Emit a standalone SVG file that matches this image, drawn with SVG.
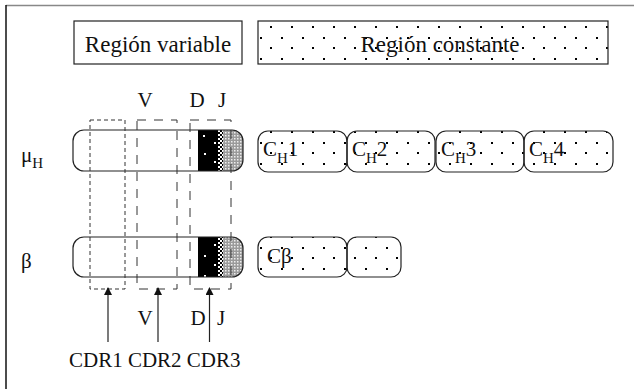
<svg xmlns="http://www.w3.org/2000/svg" width="634" height="389" viewBox="0 0 634 389" font-family="'Liberation Serif', 'Times New Roman', serif">
<style>
text{font-family:"Liberation Serif","Times New Roman",serif;fill:#111}
.lbl{font-size:21px}
.box{fill:url(#dots);stroke:#222;stroke-width:1.2}
.bar{fill:none;stroke:#222;stroke-width:1.2}
.d1{fill:none;stroke:#333;stroke-width:1;stroke-dasharray:4 3}
.d2{fill:none;stroke:#333;stroke-width:1;stroke-dasharray:9 8}
.arr{stroke:#222;stroke-width:1.2;marker-end:url(#ah)}
</style>
<defs>
<pattern id="dots" patternUnits="userSpaceOnUse" x="259" y="26" width="21" height="21">
<rect x="11" y="0" width="2" height="2" fill="#000"/>
<rect x="1" y="11" width="2" height="2" fill="#000"/>
</pattern>
<pattern id="chk" patternUnits="userSpaceOnUse" x="218" y="130" width="4" height="4">
<rect width="4" height="4" fill="#000"/>
<rect width="2" height="2" fill="#fff"/>
<rect x="2" y="2" width="2" height="2" fill="#fff"/>
</pattern>
<pattern id="gry" patternUnits="userSpaceOnUse" width="3" height="3">
<rect width="3" height="3" fill="#9a9a9a"/>
<rect width="1.5" height="1.5" fill="#eee"/>
</pattern>
<clipPath id="cm"><rect x="73" y="130" width="170" height="41" rx="11"/></clipPath>
<clipPath id="cb"><rect x="73" y="237" width="170" height="40" rx="11"/></clipPath>
<marker id="ah" markerWidth="8" markerHeight="8" refX="7" refY="4" orient="auto" markerUnits="userSpaceOnUse">
<path d="M0,0 L8,4 L0,8 Z" fill="#111"/>
</marker>
</defs>
<g id="frame">
<line x1="6" y1="5.5" x2="634" y2="5.5" stroke="#888" stroke-width="1.5"/>
<line x1="6" y1="5" x2="6" y2="389" stroke="#111" stroke-width="1.5"/>
</g>
<g id="legend-variable">
<rect x="74" y="21" width="168" height="43" fill="#fff" stroke="#222" stroke-width="1.2"/>
<text x="158" y="52" font-size="23" text-anchor="middle">Región variable</text>
</g>
<g id="legend-constante">
<rect x="258" y="21" width="350" height="43" class="box"/>
<text x="440" y="52" font-size="23" text-anchor="middle">Región constante</text>
</g>
<g id="labels-top">
<text class="lbl" x="145" y="107" text-anchor="middle">V</text>
<text class="lbl" x="197" y="107" text-anchor="middle">D</text>
<text class="lbl" x="222" y="107" text-anchor="middle">J</text>
</g>
<g id="mu-label"><text class="lbl" x="21" y="162">μ<tspan font-size="15" dy="6">H</tspan></text></g>
<g id="beta-label"><text class="lbl" x="21" y="268">β</text></g>
<g id="mu-variable">
<g clip-path="url(#cm)">
<rect x="73" y="130" width="170" height="41" fill="#fff"/>
<rect x="198" y="130" width="20" height="41" fill="#000"/>
<rect x="218" y="130" width="5" height="41" fill="url(#chk)"/>
<rect x="223" y="130" width="20" height="41" fill="url(#gry)"/>
<rect x="203" y="135" width="2" height="2" fill="#fff"/>
<rect x="214" y="142" width="2" height="2" fill="#fff"/>
<rect x="204" y="153" width="2" height="2" fill="#fff"/>
<rect x="214" y="161" width="2" height="2" fill="#fff"/>
</g>
<rect x="73" y="130" width="170" height="41" rx="11" class="bar"/>
</g>
<g id="beta-variable">
<g clip-path="url(#cb)">
<rect x="73" y="237" width="170" height="40" fill="#fff"/>
<rect x="198" y="237" width="20" height="40" fill="#000"/>
<rect x="218" y="237" width="5" height="40" fill="url(#chk)"/>
<rect x="223" y="237" width="20" height="40" fill="url(#gry)"/>
<rect x="214" y="244" width="2" height="2" fill="#fff"/>
<rect x="204" y="255" width="2" height="2" fill="#fff"/>
<rect x="214" y="264" width="2" height="2" fill="#fff"/>
<rect x="204" y="275" width="2" height="2" fill="#fff"/>
</g>
<rect x="73" y="237" width="170" height="40" rx="11" class="bar"/>
</g>
<g id="CH1"><rect x="258" y="131" width="89" height="41" rx="10" class="box"/><text class="lbl" x="263" y="156">C<tspan font-size="15" dy="7">H</tspan><tspan dy="-7">1</tspan></text></g>
<g id="CH2"><rect x="347" y="131" width="88" height="41" rx="10" class="box"/><text class="lbl" x="352" y="156">C<tspan font-size="15" dy="7">H</tspan><tspan dy="-7">2</tspan></text></g>
<g id="CH3"><rect x="436" y="131" width="88" height="41" rx="10" class="box"/><text class="lbl" x="441" y="156">C<tspan font-size="15" dy="7">H</tspan><tspan dy="-7">3</tspan></text></g>
<g id="CH4"><rect x="524" y="131" width="89" height="41" rx="10" class="box"/><text class="lbl" x="529" y="156">C<tspan font-size="15" dy="7">H</tspan><tspan dy="-7">4</tspan></text></g>
<g id="Cbeta"><rect x="258" y="237" width="89" height="40" rx="10" class="box"/><text class="lbl" x="267" y="263">Cβ</text></g>
<g id="Cbeta2"><rect x="347" y="237" width="54" height="40" rx="10" class="box"/></g>
<g id="connectors">
<rect x="90" y="120" width="35" height="169" class="d1"/>
<rect x="137" y="120" width="40" height="169" class="d2"/>
<rect x="190" y="120" width="41" height="169" class="d2"/>
<line x1="108" y1="342" x2="108" y2="288" class="arr"/>
<line x1="158" y1="342" x2="158" y2="288" class="arr"/>
<line x1="209.5" y1="342" x2="209.5" y2="288" class="arr"/>
</g>
<g id="labels-bottom">
<text class="lbl" x="145" y="325" text-anchor="middle">V</text>
<text class="lbl" x="198" y="325" text-anchor="middle">D</text>
<text class="lbl" x="221" y="325" text-anchor="middle">J</text>
<text class="lbl" x="69" y="367">CDR1 CDR2 CDR3</text>
</g>
</svg>
